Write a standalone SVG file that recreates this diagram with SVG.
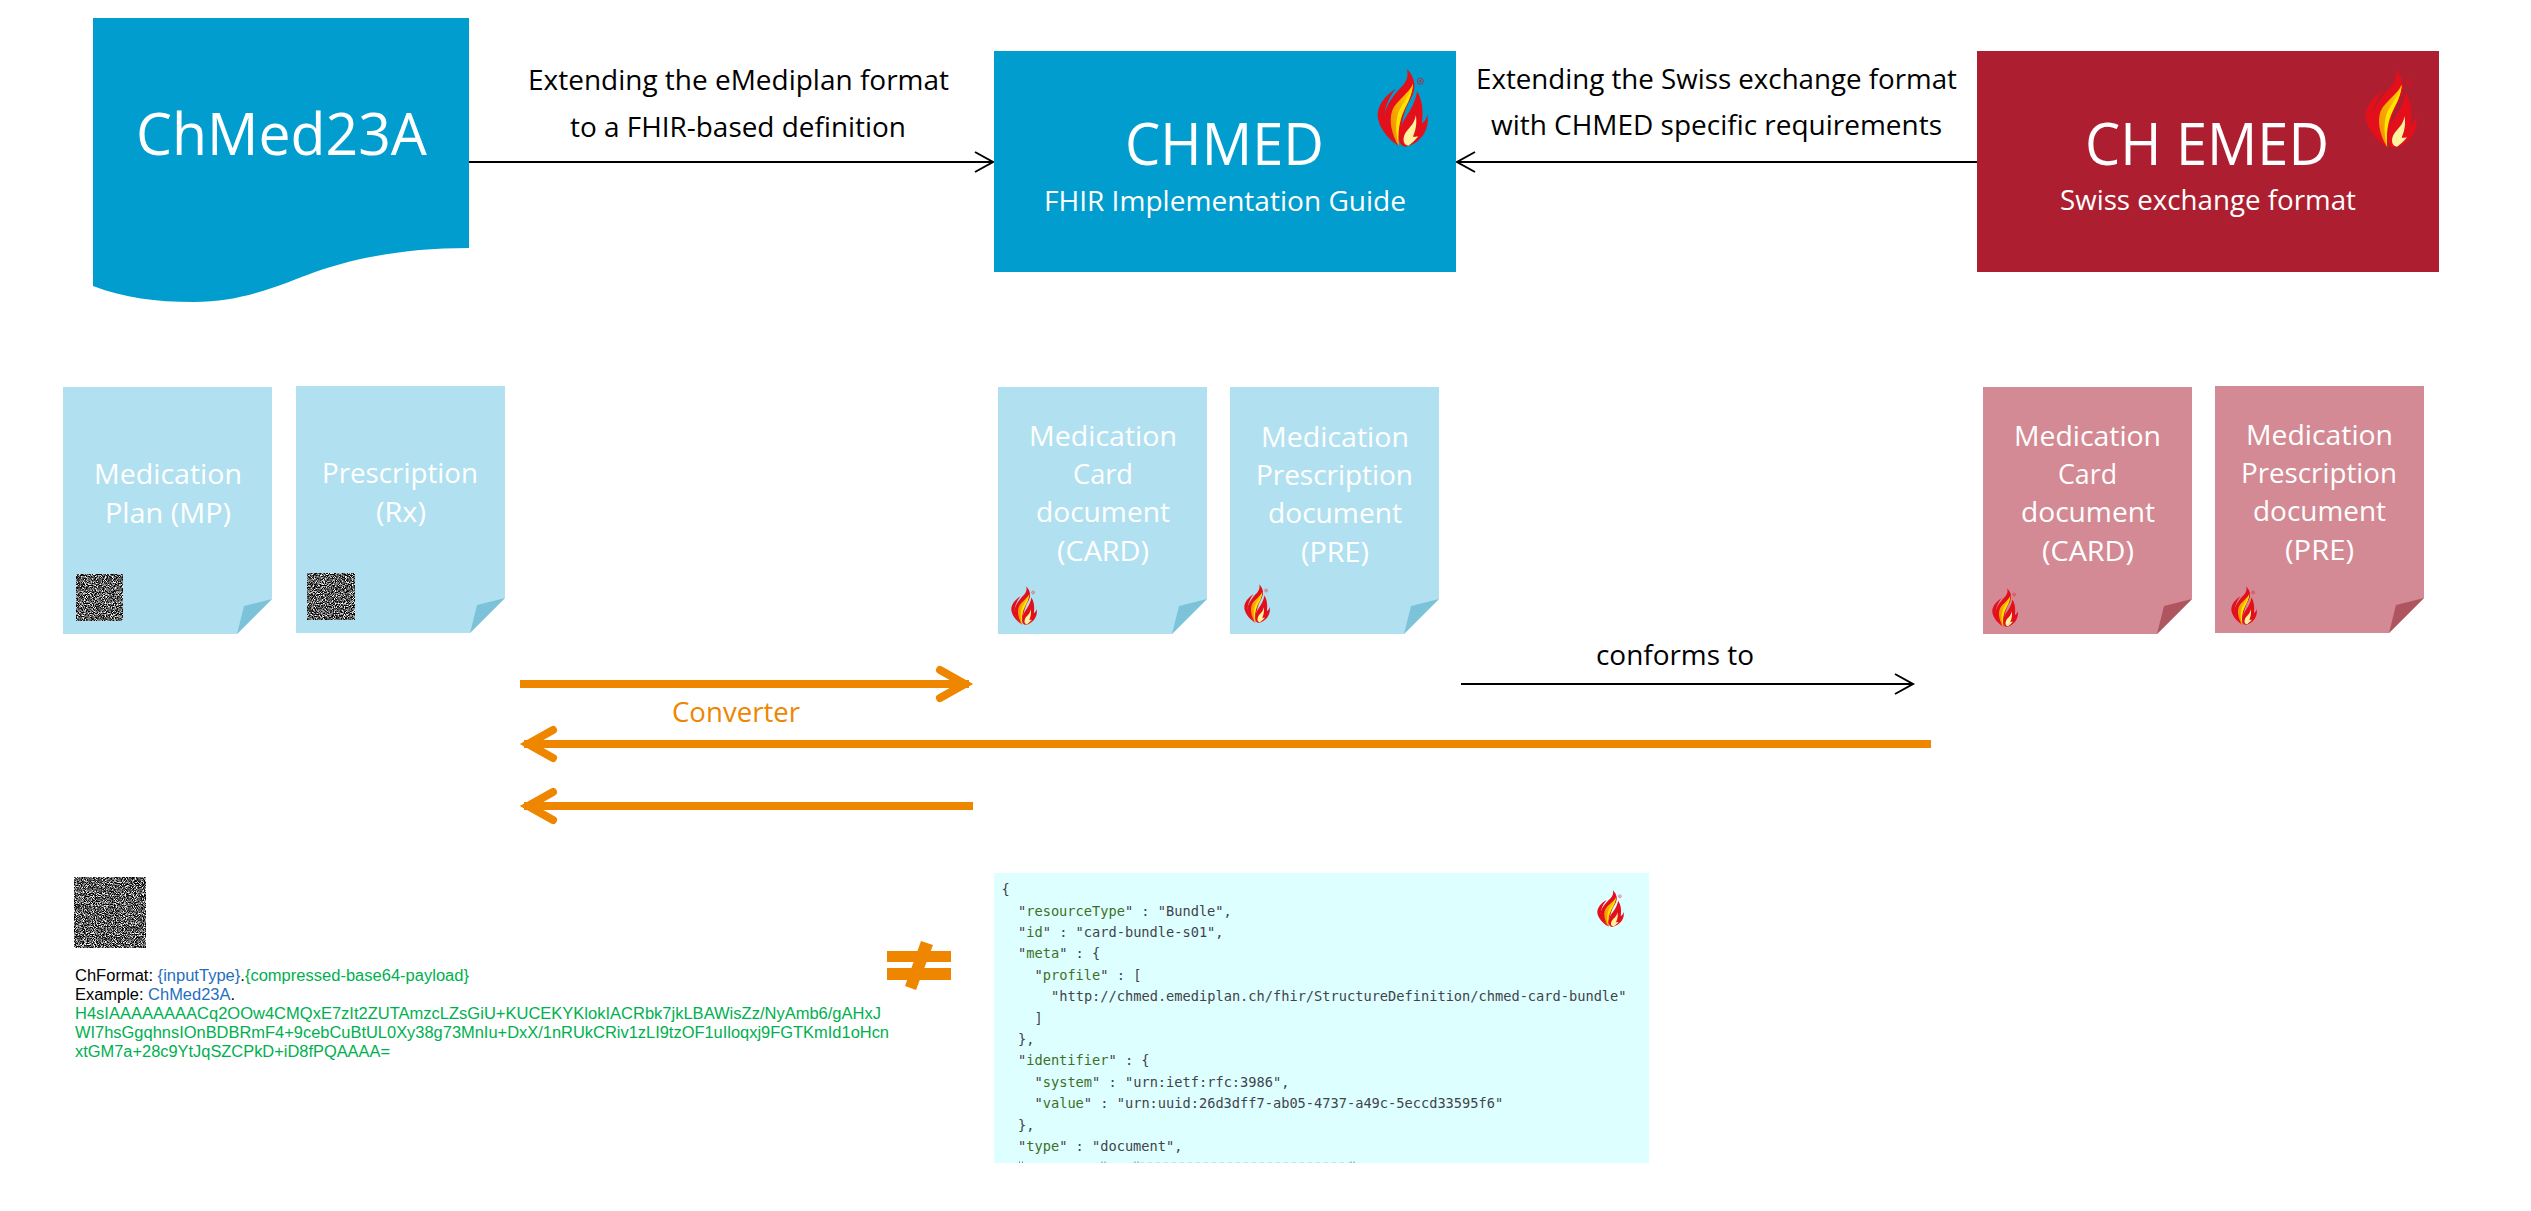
<svg xmlns="http://www.w3.org/2000/svg" width="2531" height="1211" viewBox="0 0 2531 1211">
<style>
text{font-family:"Open Sans","Noto Sans","Liberation Sans",sans-serif}
.w{fill:#fff}
.h1{font-size:58px}
.h2{font-size:28px}
.lab{font-size:28px;fill:#000}
.p{font-size:28px;fill:#fff}
.blue{fill:#009DCE}
.red{fill:#AD1F30}
.pb{fill:#B1E1F0}
.fb{fill:#7CC3DA}
.pr{fill:#D48A94}
.fr{fill:#AF5560}
.conn{fill:none;stroke:#000;stroke-width:2}
.orange{fill:none;stroke:#EE8600;stroke-width:8}
.ch{font-family:"Liberation Sans",Arial,sans-serif;font-size:16px;fill:#000}
.cb{fill:#1F6FC0}
.cg{fill:#00B050}
.js{font-family:"DejaVu Sans Mono","Liberation Mono",monospace;font-size:13.67px;fill:#3f444a}
.jk{fill:#3F6F25}
</style>
<defs>
<filter id="noise" x="0" y="0" width="100%" height="100%" color-interpolation-filters="sRGB">
<feTurbulence type="fractalNoise" baseFrequency="1.1" numOctaves="1" seed="7"/>
<feColorMatrix values="3.4 0 0 0 -1.35 3.4 0 0 0 -1.35 3.4 0 0 0 -1.35 0 0 0 0 1"/>
</filter>
<linearGradient id="fl" x1="0" y1="1" x2="1" y2="0">
<stop offset="0" stop-color="#F08A00"/><stop offset="1" stop-color="#FFD000"/>
</linearGradient>
<marker id="open" markerUnits="userSpaceOnUse" markerWidth="22" markerHeight="24" refX="19" refY="12" orient="auto">
<path d="M1 2L19 12L1 22" fill="none" stroke="#000" stroke-width="2"/>
</marker>
<marker id="openO" markerUnits="userSpaceOnUse" markerWidth="48" markerHeight="48" refX="38" refY="24" orient="auto">
<path d="M9 10L34 24L9 38" fill="none" stroke="#EE8600" stroke-width="8" stroke-linecap="round"/>
</marker>
<symbol id="flame" viewBox="50 25 165 245" preserveAspectRatio="none">
<path fill="#E30F1B" d="M108 88C75 108 50 140 52 172C55 205 85 240 112 258C88 228 68 198 74 160C79 132 92 108 108 88Z"/>
<path fill="#E30F1B" d="M143 27C172 58 172 90 155 118C135 150 122 200 118 262C92 238 68 205 72 170C76 140 105 102 130 78C145 62 148 45 143 27Z"/>
<path fill="url(#fl)" d="M162 72C152 100 112 122 98 152C86 182 95 225 118 262C112 218 116 184 132 154C146 126 160 102 162 72Z"/>
<path fill="#FFE600" d="M162 74C155 104 132 128 118 156C106 186 108 226 118 262C114 220 120 184 134 154C148 126 160 104 162 74Z"/>
<path fill="#E30F1B" d="M175 95C196 130 192 168 190 192C200 186 206 176 206 165C216 204 190 252 140 263C120 262 114 240 122 210C130 176 165 152 175 95Z"/>
<path fill="#FFF3A0" d="M171 168C165 200 146 206 136 226C128 246 135 258 148 260C158 252 168 244 178 232C170 232 164 234 162 232C170 215 175 195 171 168Z"/>
<circle cx="185" cy="65" r="9" fill="none" stroke="#E30F1B" stroke-width="2.5"/>
<circle cx="185" cy="65" r="3" fill="#E30F1B"/>
</symbol>
<path id="sheet" d="M0 0H209V212L174 247H0Z"/>
<path id="fold" d="M174 247L209 212L181 219Z"/>
</defs>
<rect width="2531" height="1211" fill="#fff"/>

<g id="connectors">
<line class="conn" x1="469" y1="162" x2="993" y2="162" marker-end="url(#open)"/>
<line class="conn" x1="1977" y1="162" x2="1457" y2="162" marker-end="url(#open)"/>
<line class="conn" x1="1461" y1="684" x2="1913" y2="684" marker-end="url(#open)"/>
<line class="orange" x1="520" y1="684" x2="969" y2="684" marker-end="url(#openO)"/>
<line class="orange" x1="1931" y1="744" x2="524" y2="744" marker-end="url(#openO)"/>
<line class="orange" x1="973" y1="806" x2="524" y2="806" marker-end="url(#openO)"/>
</g>

<g id="node-chmed23a">
<path class="blue" d="M93 18H469V248C405 248 355 258 315 272C285 283 245 302 194 302C155 302 125 298 93 286Z"/>
<text class="w h1" x="136" y="155" textLength="291" lengthAdjust="spacingAndGlyphs">ChMed23A</text>
</g>
<g id="label-emediplan">
<text class="lab" x="528" y="90" textLength="421" lengthAdjust="spacingAndGlyphs">Extending the eMediplan format</text>
<text class="lab" x="570" y="137" textLength="336" lengthAdjust="spacingAndGlyphs">to a FHIR-based definition</text>
</g>
<g id="node-chmed">
<rect class="blue" x="994" y="51" width="462" height="221"/>
<text class="w h1" x="1125" y="165" textLength="199" lengthAdjust="spacingAndGlyphs">CHMED</text>
<text class="w h2" x="1044" y="211" textLength="362" lengthAdjust="spacingAndGlyphs">FHIR Implementation Guide</text>
<use href="#flame" x="1377" y="68" width="53" height="81"/>
</g>
<g id="label-swiss">
<text class="lab" x="1476" y="89" textLength="481" lengthAdjust="spacingAndGlyphs">Extending the Swiss exchange format</text>
<text class="lab" x="1491" y="135" textLength="451" lengthAdjust="spacingAndGlyphs">with CHMED specific requirements</text>
</g>
<g id="node-chemed">
<rect class="red" x="1977" y="51" width="462" height="221"/>
<text class="w h1" x="2085" y="165" textLength="244" lengthAdjust="spacingAndGlyphs">CH EMED</text>
<text class="w h2" x="2060" y="210" textLength="296" lengthAdjust="spacingAndGlyphs">Swiss exchange format</text>
<use href="#flame" x="2365" y="69" width="54" height="81"/>
</g>

<g id="paper-mp">
<use href="#sheet" class="pb" x="63" y="387"/><use href="#fold" class="fb" x="63" y="387"/>
<text class="p" x="94" y="484" textLength="148" lengthAdjust="spacingAndGlyphs">Medication</text>
<text class="p" x="105" y="523" textLength="126" lengthAdjust="spacingAndGlyphs">Plan (MP)</text>
<rect x="76" y="574" width="47" height="47" filter="url(#noise)"/>
</g>
<g id="paper-rx">
<use href="#sheet" class="pb" x="296" y="386"/><use href="#fold" class="fb" x="296" y="386"/>
<text class="p" x="322" y="483" textLength="156" lengthAdjust="spacingAndGlyphs">Prescription</text>
<text class="p" x="376" y="522" textLength="50" lengthAdjust="spacingAndGlyphs">(Rx)</text>
<rect x="307" y="573" width="48" height="47" filter="url(#noise)"/>
</g>
<g id="paper-card-blue">
<use href="#sheet" class="pb" x="998" y="387"/><use href="#fold" class="fb" x="998" y="387"/>
<text class="p" x="1029" y="446" textLength="148" lengthAdjust="spacingAndGlyphs">Medication</text>
<text class="p" x="1073" y="484" textLength="60" lengthAdjust="spacingAndGlyphs">Card</text>
<text class="p" x="1036" y="522" textLength="134" lengthAdjust="spacingAndGlyphs">document</text>
<text class="p" x="1057" y="561" textLength="92" lengthAdjust="spacingAndGlyphs">(CARD)</text>
<use href="#flame" x="1011" y="586" width="27" height="40"/>
</g>
<g id="paper-pre-blue">
<use href="#sheet" class="pb" x="1230" y="387"/><use href="#fold" class="fb" x="1230" y="387"/>
<text class="p" x="1261" y="447" textLength="148" lengthAdjust="spacingAndGlyphs">Medication</text>
<text class="p" x="1256" y="485" textLength="157" lengthAdjust="spacingAndGlyphs">Prescription</text>
<text class="p" x="1268" y="523" textLength="134" lengthAdjust="spacingAndGlyphs">document</text>
<text class="p" x="1301" y="562" textLength="68" lengthAdjust="spacingAndGlyphs">(PRE)</text>
<use href="#flame" x="1244" y="584" width="27" height="40"/>
</g>
<g id="paper-card-red">
<use href="#sheet" class="pr" x="1983" y="387"/><use href="#fold" class="fr" x="1983" y="387"/>
<text class="p" x="2014" y="446" textLength="147" lengthAdjust="spacingAndGlyphs">Medication</text>
<text class="p" x="2058" y="484" textLength="59" lengthAdjust="spacingAndGlyphs">Card</text>
<text class="p" x="2021" y="522" textLength="134" lengthAdjust="spacingAndGlyphs">document</text>
<text class="p" x="2042" y="561" textLength="92" lengthAdjust="spacingAndGlyphs">(CARD)</text>
<use href="#flame" x="1992" y="588" width="27" height="40"/>
</g>
<g id="paper-pre-red">
<use href="#sheet" class="pr" x="2215" y="386"/><use href="#fold" class="fr" x="2215" y="386"/>
<text class="p" x="2246" y="445" textLength="147" lengthAdjust="spacingAndGlyphs">Medication</text>
<text class="p" x="2241" y="483" textLength="156" lengthAdjust="spacingAndGlyphs">Prescription</text>
<text class="p" x="2253" y="521" textLength="133" lengthAdjust="spacingAndGlyphs">document</text>
<text class="p" x="2285" y="560" textLength="69" lengthAdjust="spacingAndGlyphs">(PRE)</text>
<use href="#flame" x="2231" y="586" width="27" height="40"/>
</g>

<g id="label-conforms"><text class="lab" x="1596" y="665" textLength="158" lengthAdjust="spacingAndGlyphs">conforms to</text></g>
<g id="label-converter"><text class="lab" style="fill:#EE8600" x="672" y="722" textLength="128" lengthAdjust="spacingAndGlyphs">Converter</text></g>

<g id="chformat">
<rect x="74" y="877" width="72" height="71" filter="url(#noise)"/>
<text class="ch" x="75" y="980.5" textLength="394" lengthAdjust="spacingAndGlyphs">ChFormat: <tspan class="cb">{inputType}</tspan>.<tspan class="cg">{compressed-base64-payload}</tspan></text>
<text class="ch" x="75" y="999.5" textLength="160" lengthAdjust="spacingAndGlyphs">Example: <tspan class="cb">ChMed23A</tspan>.</text>
<text class="ch cg" x="75" y="1018.7" textLength="806" lengthAdjust="spacingAndGlyphs">H4sIAAAAAAAACq2OOw4CMQxE7zIt2ZUTAmzcLZsGiU+KUCEKYKlokIACRbk7jkLBAWisZz/NyAmb6/gAHxJ</text>
<text class="ch cg" x="75" y="1037.7" textLength="814" lengthAdjust="spacingAndGlyphs">WI7hsGgqhnsIOnBDBRmF4+9cebCuBtUL0Xy38g73MnIu+DxX/1nRUkCRiv1zLI9tzOF1uIloqxj9FGTKmId1oHcn</text>
<text class="ch cg" x="75" y="1056.7" textLength="315" lengthAdjust="spacingAndGlyphs">xtGM7a+28c9YtJqSZCPkD+iD8fPQAAAA=</text>
</g>

<g id="not-equal" fill="#EE8600">
<rect x="887" y="951" width="64" height="11"/>
<rect x="887" y="968" width="64" height="12"/>
<path d="M921 941L933 945L916 990L905 986Z"/>
</g>

<g id="json-example">
<rect x="994" y="873" width="655" height="290" fill="#DEFFFF"/>
<text class="js" x="1001.5" y="894.2">{</text>
<text class="js" x="1018" y="915.6">"<tspan class="jk">resourceType</tspan>" : "Bundle",</text>
<text class="js" x="1018" y="937">"<tspan class="jk">id</tspan>" : "card-bundle-s01",</text>
<text class="js" x="1018" y="958.4">"<tspan class="jk">meta</tspan>" : {</text>
<text class="js" x="1034.5" y="979.8">"<tspan class="jk">profile</tspan>" : [</text>
<text class="js" x="1051" y="1001.2">"http://chmed.emediplan.ch/fhir/StructureDefinition/chmed-card-bundle"</text>
<text class="js" x="1034.5" y="1022.6">]</text>
<text class="js" x="1018" y="1044">},</text>
<text class="js" x="1018" y="1065.4">"<tspan class="jk">identifier</tspan>" : {</text>
<text class="js" x="1034.5" y="1086.8">"<tspan class="jk">system</tspan>" : "urn:ietf:rfc:3986",</text>
<text class="js" x="1034.5" y="1108.2">"<tspan class="jk">value</tspan>" : "urn:uuid:26d3dff7-ab05-4737-a49c-5eccd33595f6"</text>
<text class="js" x="1018" y="1129.6">},</text>
<text class="js" x="1018" y="1151">"<tspan class="jk">type</tspan>" : "document",</text>
<path d="M1019.5 1161.5v1.5M1022.5 1161.5v1.5M1102 1161.5v1.5M1105 1161.5v1.5M1135 1161.5v1.5M1138 1161.5v1.5M1351 1161.5v1.5M1354 1161.5v1.5" stroke="#7a7f85" stroke-width="1" fill="none"/>
<line x1="1140" y1="1162.5" x2="1350" y2="1162.5" stroke="#7a7f85" stroke-opacity=".2" stroke-width="1" stroke-dasharray="4 4"/>
<use href="#flame" x="1597" y="890" width="28" height="38"/>
</g>
</svg>
